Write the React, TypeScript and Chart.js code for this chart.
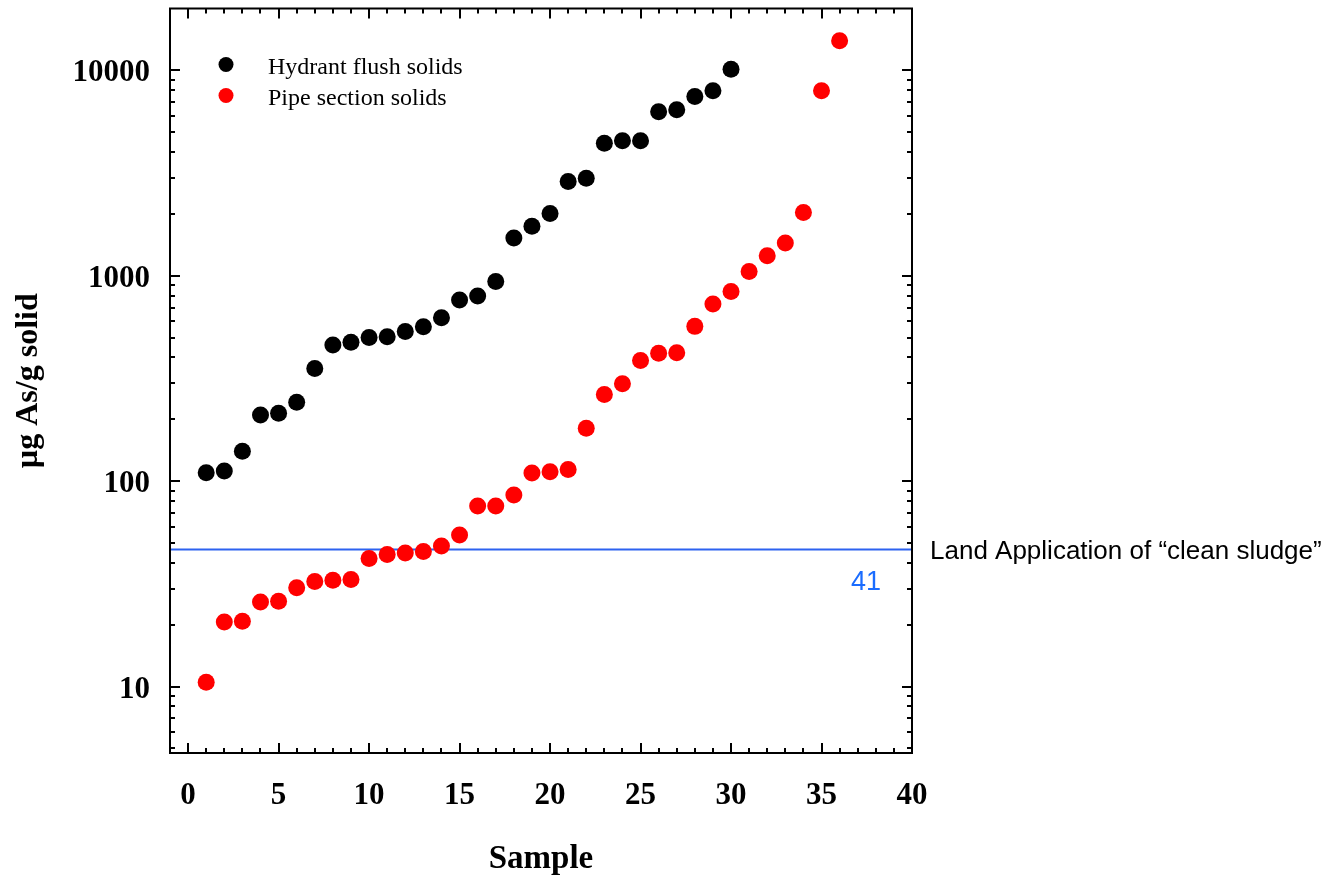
import React, { useEffect, useRef } from 'react';
import { Chart, registerables } from 'chart.js';

Chart.register(...registerables);

// ---- Data ----
const hydrantSamples = [1, 2, 3, 4, 5, 6, 7, 8, 9, 10, 11, 12, 13, 14, 15, 16, 17, 18, 19, 20, 21, 22, 23, 24, 25, 26, 27, 28, 29, 30];
const hydrantValues = [110, 112, 140, 210, 214, 242, 354, 460, 475, 501, 505, 536, 565, 624, 762, 797, 938, 1525, 1744, 2010, 2875, 2985, 4420, 4540, 4540, 6280, 6430, 7460, 7950, 10130];

const pipeSamples = [1, 2, 3, 4, 5, 6, 7, 8, 9, 10, 11, 12, 13, 14, 15, 16, 17, 18, 19, 20, 21, 22, 23, 24, 25, 26, 27, 28, 29, 30, 31, 32, 33, 34, 35, 36];
const pipeValues = [10.5, 20.6, 20.8, 25.8, 26.0, 30.3, 32.5, 32.9, 33.2, 42.0, 44.0, 44.7, 45.5, 48.4, 54.7, 75.7, 75.7, 85.7, 109.6, 111, 114, 181, 264, 298, 387, 419, 422, 567, 728, 839, 1050, 1250, 1442, 2033, 7950, 13920];

const seriesNames = ['Hydrant flush solids', 'Pipe section solids'];
const seriesColors = ['#000000', '#ff0000'];

const thresholdX = [-1, 40];
const thresholdY = [46.5, 46.5];
const thresholdLabel = '41';
const thresholdNote = 'Land Application of \u201cclean sludge\u201d';

const xTickLabels = [0, 5, 10, 15, 20, 25, 30, 35, 40];
const yTickLabels = [10, 100, 1000, 10000];
const xRange = [-1, 40];
const yRange = [4.75, 20000];

const xTitle = 'Sample';
const yTitle = '\u00b5g As/g solid';

const SERIF = '"Liberation Serif", "Times New Roman", serif';
const SANS = '"Liberation Sans", Arial, sans-serif';

const framePlugin = {
  id: 'frameTicks',
  afterDatasetsDraw(chart: any) {
    const { ctx, chartArea: a, scales } = chart;
    const x = scales.x;
    const y = scales.y;
    ctx.save();
    ctx.strokeStyle = '#000';
    ctx.lineWidth = 2;
    ctx.strokeRect(a.left, a.top, a.right - a.left, a.bottom - a.top);
    const seg = (x1: number, y1: number, x2: number, y2: number) => {
      ctx.beginPath();
      ctx.moveTo(x1, y1);
      ctx.lineTo(x2, y2);
      ctx.stroke();
    };
    for (let v = Math.ceil(x.min); v <= x.max; v++) {
      const px = Math.round(x.getPixelForValue(v));
      const len = v % 5 === 0 ? 10 : 5;
      seg(px, a.bottom, px, a.bottom - len);
      seg(px, a.top, px, a.top + len);
    }
    const e0 = Math.floor(Math.log10(y.min));
    const e1 = Math.ceil(Math.log10(y.max));
    for (let e = e0; e <= e1; e++) {
      for (let m = 1; m <= 9; m++) {
        const v = m * Math.pow(10, e);
        if (v < y.min * 1.0001 || v > y.max * 0.9999) continue;
        const py = Math.round(y.getPixelForValue(v));
        const len = m === 1 ? 10 : 5;
        seg(a.left, py, a.left + len, py);
        seg(a.right, py, a.right - len, py);
      }
    }
    ctx.restore();
  },
  afterDraw(chart: any) {
    const { ctx, chartArea: a, scales } = chart;
    const y = scales.y;
    ctx.save();
    // legend
    ctx.font = `normal 24px ${SERIF}`;
    ctx.textBaseline = 'middle';
    ctx.textAlign = 'left';
    seriesNames.forEach((name, i) => {
      const cy = a.top + 56 + i * 31;
      ctx.fillStyle = seriesColors[i];
      ctx.beginPath();
      ctx.arc(a.left + 56, cy, 7.5, 0, Math.PI * 2);
      ctx.fill();
      ctx.fillStyle = '#000';
      ctx.fillText(name, a.left + 98, cy + 3);
    });
    // threshold annotations
    const ly = y.getPixelForValue(thresholdY[0]);
    ctx.font = `normal 27px ${SANS}`;
    ctx.fillStyle = '#1a6cff';
    ctx.textAlign = 'center';
    ctx.fillText(thresholdLabel, a.right - 46, ly + 33);
    ctx.font = `normal 26px ${SANS}`;
    ctx.fillStyle = '#000';
    ctx.textAlign = 'left';
    ctx.fillText(thresholdNote, a.right + 18, ly + 2);
    ctx.restore();
  },
};

export default function App() {
  const ref = useRef<HTMLCanvasElement | null>(null);
  useEffect(() => {
    if (!ref.current) return;
    const chart = new Chart(ref.current, {
      type: 'scatter',
      data: {
        datasets: [
          {
            label: seriesNames[0],
            data: hydrantSamples.map((s, i) => ({ x: s, y: hydrantValues[i] })),
            backgroundColor: seriesColors[0],
            borderWidth: 0,
            pointRadius: 8.5,
            order: 1,
          },
          {
            label: seriesNames[1],
            data: pipeSamples.map((s, i) => ({ x: s, y: pipeValues[i] })),
            backgroundColor: seriesColors[1],
            borderWidth: 0,
            pointRadius: 8.5,
            order: 2,
          },
          {
            type: 'line',
            label: 'threshold',
            data: thresholdX.map((xv, i) => ({ x: xv, y: thresholdY[i] })),
            borderColor: '#2d62f0',
            borderWidth: 2,
            pointRadius: 0,
            showLine: true,
            order: 3,
          } as any,
        ],
      },
      options: {
        animation: false,
        responsive: true,
        maintainAspectRatio: false,
        layout: { padding: { left: 0, top: 8, right: 420, bottom: 0 } },
        plugins: { legend: { display: false }, tooltip: { enabled: false } },
        scales: {
          x: {
            type: 'linear',
            min: xRange[0],
            max: xRange[1],
            grid: { display: false, drawTicks: false },
            border: { display: false },
            afterBuildTicks: (s: any) => {
              s.ticks = xTickLabels.map((v) => ({ value: v }));
            },
            afterFit: (s: any) => {
              s.height = 122;
              s.paddingLeft = 0;
              s.paddingRight = 0;
            },
            ticks: {
              color: '#000',
              padding: 24,
              maxRotation: 0,
              autoSkip: false,
              font: { family: SERIF, size: 31, weight: 'bold' },
              callback: (v: any) => String(v),
            },
            title: {
              display: true,
              text: xTitle,
              color: '#000',
              font: { family: SERIF, size: 33, weight: 'bold' },
              padding: { top: 0, bottom: -4 },
            },
          },
          y: {
            type: 'logarithmic',
            min: yRange[0],
            max: yRange[1],
            grid: { display: false, drawTicks: false },
            border: { display: false },
            afterBuildTicks: (s: any) => {
              s.ticks = yTickLabels.map((v) => ({ value: v }));
            },
            afterFit: (s: any) => {
              s.width = 170;
              s.paddingTop = 0;
              s.paddingBottom = 0;
            },
            ticks: {
              color: '#000',
              padding: 20,
              labelOffset: 3,
              autoSkip: false,
              font: { family: SERIF, size: 31, weight: 'bold' },
              callback: (v: any) => String(v),
            },
            title: {
              display: true,
              text: yTitle,
              color: '#000',
              font: { family: SERIF, size: 32, weight: 'bold' },
              padding: { top: 10, bottom: 0 },
            },
          },
        },
      } as any,
      plugins: [framePlugin],
    });
    return () => chart.destroy();
  }, []);
  return (
    <div style={{ position: 'fixed', left: 0, top: 0, width: 1332, height: 875, background: '#fff' }}>
      <canvas ref={ref} />
    </div>
  );
}
